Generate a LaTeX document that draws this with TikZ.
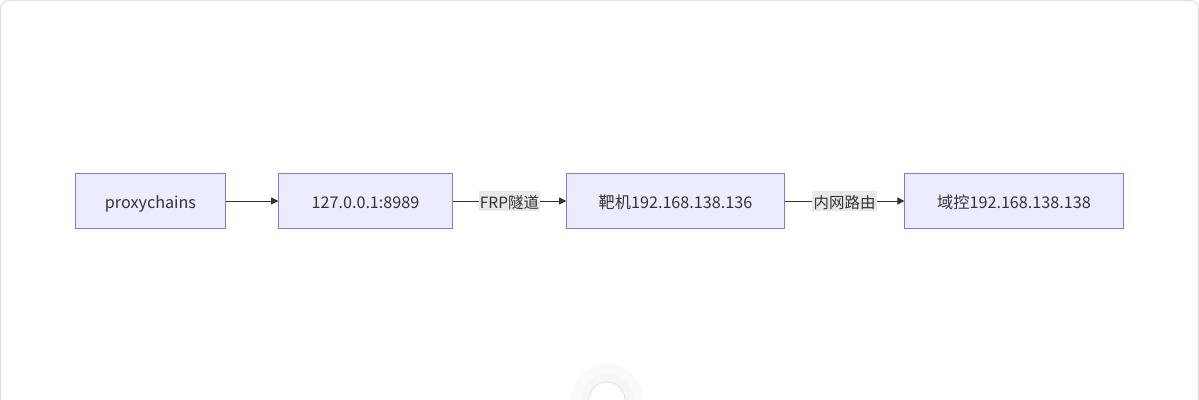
\documentclass[tikz,border=0pt]{standalone}
\usepackage{fontspec}
\setmainfont{Noto Sans CJK SC}
\usepackage{tikz}
\usetikzlibrary{arrows.meta, positioning}
\definecolor{boxfill}{RGB}{236,236,255}
\definecolor{boxline}{RGB}{147,112,219}
\definecolor{textgray}{RGB}{51,51,51}
\definecolor{labelbg}{RGB}{232,232,232}
\definecolor{framegray}{RGB}{226,226,226}

\tikzset{
    hostbox/.style={draw=boxline,fill=boxfill,line width=0.6pt,outer sep=0pt,minimum height=1.38cm,text=textgray,font=\fontsize{11.5}{13}\selectfont,text height=1em,text depth=0pt},
    link/.style={-{Triangle[length=5pt,width=5pt]},line width=0.6pt,draw=textgray},
    linklabel/.style={fill=labelbg,text=textgray,inner xsep=0.8pt,inner ysep=2.2pt,font=\fontsize{11}{13}\selectfont,text height=1em,text depth=0pt}
}

\begin{document}
\begin{tikzpicture}[x=0.025cm,y=-0.025cm]
    % frame
    \useasboundingbox (0,0) rectangle (1199,400);
    \draw[framegray,line width=0.8pt,rounded corners=6pt] (0.5,0.5) rectangle (1198.5,410);

    % hosts
    \node[hostbox,minimum width=3.76cm] (proxy) at (150.5,201) {proxychains};
    \node[hostbox,minimum width=4.36cm] (local) at (365.5,201) {127.0.0.1:8989};
    \node[hostbox,minimum width=5.46cm] (target) at (675.5,201) {靶机192.168.138.136};
    \node[hostbox,minimum width=5.48cm] (dc) at (1014,201) {域控192.168.138.138};

    % links
    \draw[link] (proxy) -- (local);
    \draw[link] (local) -- node[linklabel] (frp) {FRP隧道} (target);
    \draw[link] (target) -- node[linklabel] (route) {内网路由} (dc);

    % bottom button
    \fill[gray!4] (607,400) circle (36);
    \fill[gray!7] (607,400) circle (26);
    \draw[gray!25,fill=white,line width=0.5pt] (607,400) circle (18);
\end{tikzpicture}
\end{document}
